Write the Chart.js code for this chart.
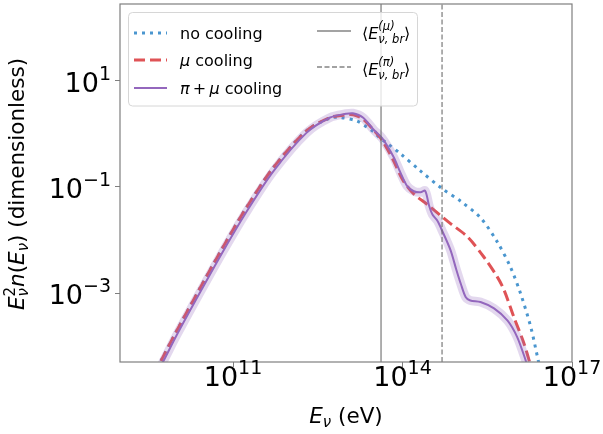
<!DOCTYPE html>
<html lang="en">
<head>
<meta charset="UTF-8">
<title>Neutrino spectrum with meson cooling</title>
<script src="https://cdn.jsdelivr.net/npm/chart.js"></script>
<style>
  body { margin: 0; background: #fff; }
  canvas { display: block; }
</style>
</head>
<body>
<canvas id="spec" width="603" height="434"></canvas>
<script>
// log10(E / eV) and log10(E^2 n(E)) for each case
const logE_none = [9.6, 9.73, 10.0, 10.41, 10.82, 11.22, 11.71, 12.30, 12.72, 12.90, 13.19, 13.37, 13.49, 13.60, 13.72, 13.96, 14.31, 14.70, 15.03, 15.38, 15.68, 15.91, 16.09, 16.27, 16.39, 16.46];
const logF_none = [-4.55, -4.27, -3.72, -2.92, -2.14, -1.42, -0.64, 0.06, 0.30, 0.31, 0.245, 0.13, 0.04, -0.08, -0.17, -0.37, -0.69, -1.03, -1.27, -1.58, -2.04, -2.51, -3.01, -3.64, -4.21, -4.55];

const logE_mu = [9.6, 9.73, 10.0, 10.41, 10.82, 11.22, 11.71, 12.30, 12.72, 13.0, 13.13, 13.30, 13.49, 13.64, 13.84, 14.0, 14.20, 14.44, 14.70, 14.85, 15.15, 15.44, 15.68, 15.80, 15.97, 16.15, 16.25, 16.32];
const logF_mu = [-4.55, -4.27, -3.72, -2.92, -2.14, -1.42, -0.64, 0.06, 0.31, 0.36, 0.36, 0.28, 0.07, -0.12, -0.50, -0.86, -1.13, -1.33, -1.56, -1.69, -1.94, -2.32, -2.70, -2.95, -3.45, -3.95, -4.30, -4.55];

const logE_pimu = [9.6, 9.76, 10.0, 10.41, 10.82, 11.22, 11.71, 12.30, 12.72, 13.0, 13.12, 13.30, 13.49, 13.64, 13.84, 13.96, 14.08, 14.20, 14.32, 14.40, 14.47, 14.53, 14.62, 14.70, 14.85, 14.95, 15.03, 15.12, 15.20, 15.38, 15.62, 15.86, 16.03, 16.18, 16.26];
const logF_pimu = [-4.60, -4.30, -3.80, -3.00, -2.22, -1.50, -0.71, 0.02, 0.31, 0.38, 0.39, 0.31, 0.08, -0.08, -0.43, -0.72, -0.98, -1.08, -1.10, -1.07, -1.35, -1.52, -1.64, -1.82, -2.19, -2.55, -2.82, -3.08, -3.14, -3.17, -3.29, -3.52, -3.83, -4.27, -4.55];

// mean break energies, log10(eV)
const logEbrMu = 13.62;
const logEbrPi = 14.70;

// axis limits and decade ticks (log10)
const xLim = [9.0, 17.0];
const yLim = [-4.30, 2.45];
const xTickExp = [11, 14, 17];
const yTickExp = [1, -1, -3];

const FONT = '"DejaVu Sans"';
const AXIS = '#7f7f7f';

const pts = (le, lf) => le.map((v, i) => ({ x: Math.pow(10, v), y: Math.pow(10, lf[i]) }));
const vline = e => [{ x: Math.pow(10, e), y: Math.pow(10, yLim[0]) }, { x: Math.pow(10, e), y: Math.pow(10, yLim[1]) }];
const sup = n => (n < 0 ? '\u2212' : '') + Math.abs(n);

const curve = { pointRadius: 0, fill: false, clip: 0, tension: 0.3 };

const datasets = [
  Object.assign({ label: 'no cooling', data: pts(logE_none, logF_none), borderColor: '#4a96cf',
    borderWidth: 3, borderDash: [3, 5], order: 5 }, curve),
  Object.assign({ label: 'mu cooling', data: pts(logE_mu, logF_mu), borderColor: '#df5356',
    borderWidth: 3, borderDash: [11, 5], order: 4 }, curve),
  Object.assign({ label: 'pi+mu cooling', data: pts(logE_pimu, logF_pimu), borderColor: '#9467bd',
    borderWidth: 2, order: 3 }, curve),
  Object.assign({ label: 'band', data: pts(logE_pimu, logF_pimu), borderColor: 'rgba(148,103,189,0.26)',
    borderWidth: 9, borderCapStyle: 'round', borderJoinStyle: 'round', order: 2 }, curve),
  { label: 'Ebr mu', data: vline(logEbrMu), borderColor: 'rgba(110,110,110,0.85)', borderWidth: 1.3,
    pointRadius: 0, clip: 0, order: 1 },
  { label: 'Ebr pi', data: vline(logEbrPi), borderColor: 'rgba(110,110,110,0.85)', borderWidth: 1.3,
    borderDash: [5, 2.5], pointRadius: 0, clip: 0, order: 1 }
];

// text made of runs: {t, s: size, it: italic, dy: baseline shift, stack: next run shares x}
function runsWidth(ctx, runs) {
  let x = 0, held = 0;
  const out = runs.map(r => {
    ctx.font = (r.it ? 'italic ' : '') + r.s + 'px ' + FONT;
    const w = ctx.measureText(r.t).width;
    const item = Object.assign({ x: x, w: w }, r);
    if (r.stack) { held = Math.max(held, w); }
    else { x += Math.max(w, held); held = 0; }
    return item;
  });
  return { items: out, width: x };
}
function drawRuns(ctx, runs, x, y) {
  const lay = runsWidth(ctx, runs);
  lay.items.forEach(r => {
    ctx.font = (r.it ? 'italic ' : '') + r.s + 'px ' + FONT;
    ctx.fillText(r.t, x + r.x, y + (r.dy || 0));
  });
  return lay.width;
}
const powRuns = e => [{ t: '10', s: 27 }, { t: sup(e), s: 19, dy: -12 }];

const legendRows = [
  { ds: 0, col: 0, row: 0, runs: [{ t: 'no cooling', s: 16 }] },
  { ds: 1, col: 0, row: 1, runs: [{ t: 'μ', s: 16, it: 1 }, { t: ' cooling', s: 16 }] },
  { ds: 2, col: 0, row: 2, runs: [{ t: 'π', s: 16, it: 1 }, { t: '\u2009+\u2009', s: 16 }, { t: 'μ', s: 16, it: 1 }, { t: ' cooling', s: 16 }] },
  { ds: 4, col: 1, row: 0, runs: [{ t: '⟨', s: 16 }, { t: 'E', s: 16, it: 1 }, { t: '(μ)', s: 11.5, it: 1, dy: -9, stack: 1 }, { t: 'ν, br', s: 11.5, it: 1, dy: 4 }, { t: '⟩', s: 16 }] },
  { ds: 5, col: 1, row: 1, runs: [{ t: '⟨', s: 16 }, { t: 'E', s: 16, it: 1 }, { t: '(π)', s: 11.5, it: 1, dy: -9, stack: 1 }, { t: 'ν, br', s: 11.5, it: 1, dy: 4 }, { t: '⟩', s: 16 }] }
];
const legendY = [[33, 60, 88], [31, 67]];
const legendX = [[134, 167, 180], [317, 351, 362]];

const decor = {
  id: 'decor',
  afterDatasetsDraw(chart) {
    const { ctx, chartArea: a } = chart;
    ctx.save();
    ctx.strokeStyle = AXIS;
    ctx.lineWidth = 1.2;
    ctx.strokeRect(a.left, a.top, a.right - a.left, a.bottom - a.top);
    ctx.restore();
  },
  afterDraw(chart) {
    const { ctx, chartArea: a, scales } = chart;
    ctx.save();
    ctx.fillStyle = '#000';
    ctx.textBaseline = 'alphabetic';

    // tick labels
    xTickExp.forEach(e => {
      const px = scales.x.getPixelForValue(Math.pow(10, e));
      const w = runsWidth(ctx, powRuns(e)).width;
      drawRuns(ctx, powRuns(e), px - w / 2, a.bottom + 24);
    });
    yTickExp.forEach(e => {
      const py = scales.y.getPixelForValue(Math.pow(10, e));
      const w = runsWidth(ctx, powRuns(e)).width;
      drawRuns(ctx, powRuns(e), a.left - 9 - w, py + 11);
    });

    // axis titles
    const xt = [{ t: 'E', s: 21.5, it: 1 }, { t: 'ν', s: 15, it: 1, dy: 4 }, { t: ' (eV)', s: 21.5 }];
    const xw = runsWidth(ctx, xt).width;
    drawRuns(ctx, xt, (a.left + a.right) / 2 - xw / 2, 423);

    const yt = [{ t: 'E', s: 21.5, it: 1 }, { t: '2', s: 15, dy: -9, stack: 1 }, { t: 'ν', s: 15, it: 1, dy: 4 },
      { t: 'n', s: 21.5, it: 1 }, { t: '(', s: 21.5 }, { t: 'E', s: 21.5, it: 1 }, { t: 'ν', s: 15, it: 1, dy: 4 },
      { t: ')', s: 21.5 }, { t: ' (dimensionless)', s: 21.5 }];
    const yw = runsWidth(ctx, yt).width;
    ctx.save();
    ctx.translate(24, (a.top + a.bottom) / 2 + 1);
    ctx.rotate(-Math.PI / 2);
    drawRuns(ctx, yt, -yw / 2, 0);
    ctx.restore();

    // legend
    ctx.beginPath();
    ctx.roundRect(128.5, 12.5, 289, 93.5, 4);
    ctx.fillStyle = 'rgba(255,255,255,0.8)';
    ctx.fill();
    ctx.strokeStyle = '#d6d6d6';
    ctx.lineWidth = 1;
    ctx.stroke();

    legendRows.forEach(r => {
      const ds = chart.data.datasets[r.ds];
      const y = legendY[r.col][r.row];
      const [x1, x2, tx] = legendX[r.col];
      ctx.save();
      ctx.strokeStyle = ds.borderColor;
      ctx.lineWidth = ds.borderWidth;
      ctx.setLineDash(ds.borderDash || []);
      ctx.beginPath();
      ctx.moveTo(x1, y);
      ctx.lineTo(x2, y);
      ctx.stroke();
      ctx.restore();
      ctx.fillStyle = '#000';
      drawRuns(ctx, r.runs, tx, y + (r.col ? 8 : 5.5));
    });
    ctx.restore();
  }
};

new Chart(document.getElementById('spec'), {
  type: 'line',
  data: { datasets: datasets },
  options: {
    responsive: false,
    animation: false,
    devicePixelRatio: 1,
    layout: { padding: { left: 115, right: 31, top: 4, bottom: 67 } },
    plugins: { legend: { display: false }, tooltip: { enabled: false } },
    scales: {
      x: {
        type: 'logarithmic',
        min: Math.pow(10, xLim[0]),
        max: Math.pow(10, xLim[1]),
        afterBuildTicks: s => { s.ticks = xTickExp.map(e => ({ value: Math.pow(10, e) })); },
        ticks: { display: false },
        grid: { drawOnChartArea: false, drawTicks: true, tickLength: 5, color: AXIS, lineWidth: 1 },
        border: { display: false }
      },
      y: {
        type: 'logarithmic',
        min: Math.pow(10, yLim[0]),
        max: Math.pow(10, yLim[1]),
        afterBuildTicks: s => { s.ticks = yTickExp.map(e => ({ value: Math.pow(10, e) })); },
        ticks: { display: false },
        grid: { drawOnChartArea: false, drawTicks: true, tickLength: 5, color: AXIS, lineWidth: 1 },
        border: { display: false }
      }
    }
  },
  plugins: [decor]
});
</script>
</body>
</html>
